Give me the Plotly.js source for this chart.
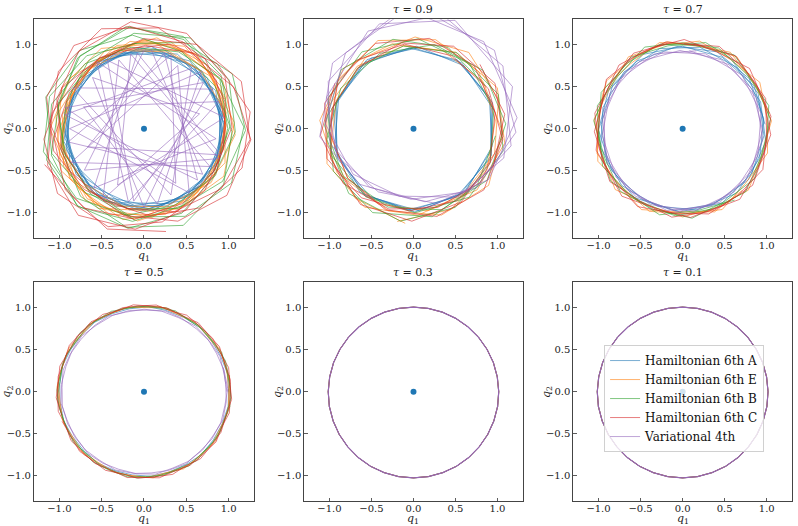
<!DOCTYPE html>
<html><head><meta charset="utf-8">
<script src="https://cdn.plot.ly/plotly-3.0.1.min.js"></script>
<style>html,body{margin:0;padding:0;background:#fff}#chart{width:798px;height:526px}</style>
</head><body><div id="chart"></div>
<script>
// ---- labels ----
const methods = ['Hamiltonian 6th A','Hamiltonian 6th E','Hamiltonian 6th B','Hamiltonian 6th C','Variational 4th'];
const lineColors = ['rgba(31,119,180,0.6)','rgba(255,127,14,0.6)','rgba(44,160,44,0.6)','rgba(214,39,40,0.6)','rgba(148,103,189,0.6)'];
const taus = ['1.1','0.9','0.7','0.5','0.3','0.1'];
const tickVals = [-1,-0.5,0,0.5,1];
const tickText = ['\u22121.0','\u22120.5','0.0','0.5','1.0'];

// ---- orbit vertices, read as (angle in degrees, radius) ----
// tau = 1.1
const t11A_th = [8,45,83,120,156,194,231,268,304,341,18,56,93,129,166,204,241,277,314,351,28,66,102,139,177,214,250,287,325,2,39,76,112,150,187,223,260,298,335,12,49,85,123,160,196,233,271,308,344,21,58,95,132,169,206,243,280,317,354,31,68,105,142,179,216,253,290,327,4,41,78,115,152,189,226,263,300,337,14,51];
const t11A_r  = [0.95,0.97,0.96,0.94,0.93,0.95,0.97,0.98,0.96,0.94,0.95,0.97,0.96,0.93,0.94,0.96,0.98,0.97,0.95,0.94,0.96,0.97,0.95,0.93,0.95,0.97,0.98,0.96,0.94,0.95,0.96,0.97,0.95,0.94,0.94,0.96,0.98,0.97,0.95,0.94,0.96,0.98,0.95,0.93,0.95,0.97,0.97,0.96,0.94,0.95,0.92,0.95,0.97,0.96,0.93,0.92,0.95,0.97,0.96,0.94,0.92,0.94,0.97,0.96,0.93,0.92,0.95,0.97,0.95,0.93,0.92,0.95,0.97,0.96,0.93,0.92,0.95,0.97,0.96,0.94];
const t11E_th = [20,55,91,126,160,196,231,266,300,336,11,46,82,117,151,187,222,257,292,327,3,38,73,108,143,179,214,248,284,319,354,29,64,99,135,170,205,240,275,310,346,21,56,90,126,161,196,231,266,302,337,12,47,82,118,153,188,223,258,293,329,4,39,74,110,145,180,215,250,285,321,356,31,66,102,137,172,207,242,277];
const t11E_r  = [1.02,1.08,1.05,0.98,0.96,1.01,1.07,1.10,1.04,0.97,0.99,1.06,1.09,1.03,0.96,0.98,1.05,1.11,1.06,0.99,0.97,1.03,1.08,1.04,0.97,0.99,1.06,1.10,1.05,0.98,0.98,1.04,1.09,1.05,0.97,0.98,1.05,1.09,1.06,0.99,0.97,1.03,1.08,1.06,0.98,0.97,1.04,1.10,1.07,1.00,1.04,0.98,0.96,1.02,1.08,1.09,1.03,0.96,0.97,1.04,1.10,1.07,1.00,0.95,0.99,1.06,1.11,1.05,0.98,0.96,1.02,1.08,1.09,1.02,0.96,0.98,1.05,1.10,1.07,0.99];
const t11B_th = [95,128,161,193,226,259,292,325,358,30,63,96,129,161,194,227,260,292,325,358,31,64,97,129,162,195,228,261,293,326,359,32,65,97,130,163,196,229,261,294,327,0,33,66,98,131,164,197,229,262,295,328,1,34,66,99,132,165,198,230,263,296,329,2,35,67,100,133,166,199,231,264];
const t11B_r  = [1.02,1.10,1.18,1.22,1.15,1.05,0.98,1.00,1.08,1.16,1.21,1.14,1.04,0.97,1.01,1.10,1.19,1.24,1.15,1.04,0.98,1.02,1.12,1.20,1.22,1.13,1.03,0.97,1.03,1.12,1.20,1.23,1.13,1.02,0.98,1.05,1.14,1.21,1.20,1.10,1.01,0.99,1.07,1.16,1.22,1.15,1.06,0.99,0.98,1.06,1.15,1.22,1.18,1.08,1.00,0.98,1.04,1.13,1.21,1.21,1.11,1.02,0.97,1.02,1.11,1.19,1.23,1.15,1.05,0.98,1.00,1.09];
const t11C_th = [200,233,264,297,329,1,33,66,97,130,161,193,226,257,290,321,354,25,58,89,122,153,186,217,250,281,314,345,18,49,82,113,146,177,210,241,274,305,338,9,42,73,106,137,170,201,233,265,297,329,2,34,66,98,130,162,194,226,258,290,322,354,26,58,90,122,154,186,218,250,282];
const t11C_r  = [1.25,1.18,1.08,1.00,0.97,1.04,1.14,1.24,1.28,1.20,1.09,1.00,0.98,1.06,1.17,1.26,1.27,1.17,1.06,0.99,0.99,1.08,1.19,1.28,1.24,1.13,1.03,0.97,1.01,1.10,1.21,1.29,1.22,1.11,1.01,0.98,1.04,1.15,1.25,1.27,1.16,1.05,0.98,1.00,1.10,1.22,1.29,1.20,1.09,1.00,0.97,1.03,1.13,1.23,1.29,1.21,1.10,1.01,0.97,1.05,1.16,1.26,1.28,1.18,1.07,0.99,0.98,1.07,1.18,1.27,1.25];
const t11V_th = [90,215,338,100,245,8,118,262,30,150,292,52,170,316,75,198,341,95,230,352,125,258,20,160,280,45,180,305,62,205,330,110,240,15,135,270,38,165,300,70,190,322,85];
const t11V_r  = [0.93,0.86,0.95,0.90,0.74,0.96,0.92,0.87,0.94,0.97,0.85,0.91,0.95,0.88,0.93,0.70,0.96,0.90,0.92,0.86,0.97,0.89,0.94,0.76,0.91,0.96,0.88,0.93,0.85,0.95,0.90,0.87,0.97,0.68,0.86,0.94,0.89,0.96,0.75,0.93,0.91,0.88,0.95];
// tau = 0.9
const t09A_th = [85,121,158,194,230,266,302,339,15,51,88,124,160,196,233,269,305,341,18,54,90,126,163,199,235,271,308,344,20,57,93,129,165,202,238,274,310,347,23,59];
const t09A_r  = [0.97,0.98,0.96,0.97,0.99,0.97,0.96,0.98,0.97,0.96,0.98,0.99,0.97,0.96,0.98,0.97,0.96,0.98,0.99,0.97,0.96,0.98,0.97,0.96,0.98,0.99,0.97,0.96,0.98,0.97,0.96,0.98,0.99,0.97,0.96,0.98,0.97,0.96,0.98,0.97];
const t09E_th = [260,295,331,6,41,76,112,147,182,217,253,288,323,358,34,69,104,139,175,210,245,280,316,351,26,61,97,132,167,202,238,273,308,343,19,54,89,124,160,195,230,265];
const t09E_r  = [1.12,1.06,1.00,0.98,1.03,1.09,1.13,1.07,1.01,0.98,1.02,1.08,1.12,1.06,1.00,0.99,1.04,1.10,1.12,1.05,0.99,0.99,1.05,1.10,1.11,1.04,0.99,1.00,1.06,1.11,1.10,1.03,0.98,1.01,1.07,1.12,1.09,1.02,0.98,1.02,1.08,1.13];
const t09B_th = [30,67,103,141,178,214,252,289,325,3,40,76,114,151,187,225,262,298,336,13,49,87,124,160,198,235,271,309,346,22,60,97,133,171,208,244,282,319,355];
const t09B_r  = [1.00,1.05,1.09,1.11,1.06,1.01,0.98,1.02,1.07,1.10,1.08,1.03,0.98,0.99,1.04,1.09,1.11,1.06,1.00,0.98,1.02,1.07,1.10,1.08,1.03,0.99,1.00,1.05,1.10,1.09,1.04,0.99,0.98,1.03,1.08,1.11,1.07,1.01,0.98];
const t09C_th = [150,184,218,253,287,321,355,29,64,98,132,166,200,235,269,303,337,11,46,80,114,148,182,217,251,285,319,353,28,62,96,130,164,199,233,267,301,335,9,44];
const t09C_r  = [1.08,1.11,1.06,1.00,0.98,1.02,1.07,1.11,1.09,1.03,0.98,1.00,1.05,1.10,1.10,1.04,0.99,0.99,1.04,1.09,1.11,1.06,1.00,0.98,1.02,1.08,1.11,1.07,1.01,0.98,1.01,1.06,1.10,1.09,1.03,0.98,1.00,1.05,1.10,1.10];
const t09V_th = [100,141,185,226,268,311,350,35,76,115,160,200,241,287,326,6,51,93,132,177,217,258,303,342,23,69,108,151,190,233,279,317,358,44,84];
const t09V_r  = [1.36,1.24,1.12,0.92,0.84,0.99,1.18,1.30,1.40,1.28,1.10,0.97,0.86,0.93,1.08,1.24,1.33,1.42,1.21,1.05,0.90,0.82,0.97,1.13,1.28,1.38,1.31,1.16,1.01,0.87,0.88,1.03,1.22,1.34,1.41];
// tau = 0.7
const t07A_th = [3,31,61,90,118,148,177,205,235,264,292,322,351,19,49,78,106,136,165,193,223,252,280,310,339,7,37,66,94,124,153,181,211,240,268,298,327,355,25,54];
const t07A_r  = [0.98,0.99,0.97,0.98,1.00,0.98,0.97,0.99,1.00,0.98,0.97,0.99,1.00,0.98,0.97,0.99,0.99,0.97,0.98,1.00,0.99,0.97,0.98,1.00,0.98,0.97,0.99,1.00,0.98,0.97,0.99,1.00,0.98,0.97,0.99,1.00,0.98,0.97,0.99,1.00];
const t07E_th = [10,33,58,81,105,129,153,176,201,224,248,272,296,319,344,7,31,55,79,102,127,150,174,198,222,245,270,293,317,341,5,28,53,76,100,124,148,171,196,219,243,267,291,314];
const t07E_r  = [1.05,1.00,1.07,1.01,1.06,0.99,1.05,1.02,1.08,1.00,1.06,1.01,1.07,0.99,1.05,1.01,1.07,1.00,1.06,1.02,1.07,0.99,1.06,1.01,1.08,1.00,1.05,1.02,1.07,0.99,1.06,1.01,1.07,1.00,1.05,1.02,1.07,1.00,1.06,1.01,1.08,0.99,1.06,1.02];
const t07B_th = [50,75,100,126,150,175,201,225,250,276,300,325,351,15,40,66,90,115,141,165,190,216,240,265,291,315,340,6,30,55,81,105,130,156,180,205,231,255,280,306];
const t07B_r  = [1.02,1.06,1.00,1.05,1.01,1.06,0.99,1.05,1.02,1.07,1.00,1.04,1.01,1.06,1.00,1.05,1.02,1.07,0.99,1.05,1.01,1.06,1.00,1.04,1.02,1.06,0.99,1.05,1.01,1.07,1.00,1.04,1.02,1.06,1.00,1.05,1.01,1.06,0.99,1.05];
const t07C_th = [100,123,146,170,193,216,239,263,286,309,332,356,19,42,65,89,112,135,158,182,205,228,251,275,298,321,344,8,31,54,77,101,124,147,170,194,217,240,263,287,310,333,356,20,43,66,89];
const t07C_r  = [1.03,1.07,1.01,1.06,1.02,1.07,1.00,1.06,1.03,1.08,1.01,1.05,1.02,1.07,1.00,1.06,1.03,1.07,1.01,1.05,1.02,1.08,1.00,1.06,1.03,1.07,1.01,1.06,1.02,1.07,1.01,1.05,1.03,1.08,1.00,1.06,1.02,1.07,1.01,1.06,1.03,1.07,1.00,1.05,1.02,1.07,1.01];
const t07V_th = [80,111,142,173,204,235,266,297,328,359,30,61,92,123,154,185,216,247,278,309,340,11,42,73,104,135,166,197,228,259,290,321,352,23,54,85];
const t07V_r  = [0.94,0.95,0.95,0.96,0.98,0.98,0.99,0.98,0.96,0.95,0.95,0.94,0.93,0.95,0.96,0.96,0.98,0.98,0.99,0.97,0.95,0.95,0.95,0.93,0.94,0.96,0.96,0.97,0.98,0.99,0.98,0.97,0.96,0.95,0.94,0.93];
// tau = 0.5
const t05A_th = [0,12,25,37,50,62,75,87,100,112,125,137,150,162,175,187,200,212,225,237,250,262,275,287,300,312,325,337,350,362];
const t05A_r  = [1.00,1.01,1.00,1.00,1.01,1.00,1.00,1.01,1.00,1.00,1.01,1.00,1.00,1.01,1.00,1.00,1.01,1.00,1.00,1.01,1.00,1.00,1.01,1.00,1.00,1.01,1.00,1.00,1.01,1.00];
const t05E_th = [5,17,30,42,54,67,79,91,103,116,128,140,153,165,177,190,202,214,227,239,251,263,276,288,300,313,325,337,350,362,374,386,399,411,423,436,448,460,473,485,497,509,522,534,546,559,571,583,596,608,620,632,645,657,669,682,694,706,719,731];
const t05E_r  = [1.02,1.01,1.03,1.01,1.02,1.00,1.03,1.01,1.02,1.01,1.03,1.00,1.02,1.01,1.03,1.01,1.02,1.00,1.03,1.01,1.02,1.01,1.03,1.00,1.02,1.01,1.03,1.01,1.02,1.00,1.01,1.02,1.00,1.02,1.01,1.03,1.00,1.02,1.01,1.02,1.00,1.03,1.01,1.02,1.00,1.02,1.01,1.03,1.00,1.02,1.01,1.02,1.00,1.03,1.01,1.02,1.00,1.02,1.01,1.03];
const t05B_th = [100,112,124,137,149,161,173,185,198,210,222,234,246,259,271,283,295,307,320,332,344,356,368,381,393,405,417,429,442,454,466,478,490,503,515,527,539,551,564,576,588,600,612,625,637,649,661,673,686,698,710,722,734,747,759,771,783,795,808,820];
const t05B_r  = [1.01,1.03,1.02,1.03,1.01,1.02,1.00,1.03,1.01,1.02,1.01,1.03,1.02,1.03,1.01,1.02,1.00,1.03,1.01,1.02,1.01,1.03,1.02,1.03,1.01,1.02,1.00,1.03,1.01,1.02,1.02,1.01,1.03,1.00,1.02,1.01,1.03,1.02,1.01,1.03,1.00,1.02,1.01,1.03,1.02,1.01,1.03,1.00,1.02,1.01,1.03,1.02,1.01,1.03,1.00,1.02,1.01,1.03,1.02,1.01];
const t05C_th = [200,211,223,233,244,256,266,277,289,299,310,322,332,343,355,365,376,388,398,409,421,431,442,454,464,475,487,497,508,520,530,541,553,563,574,586,596,607,619,629,640,652,662,673,685,695,706,718,728,739,751,761,772,784,794,805,817,827,838,850,860,871,883,893,904,916];
const t05C_r  = [1.03,1.01,1.04,1.02,1.04,1.01,1.03,1.02,1.04,1.01,1.04,1.02,1.03,1.01,1.04,1.02,1.04,1.01,1.03,1.02,1.04,1.01,1.04,1.02,1.03,1.01,1.04,1.02,1.04,1.01,1.03,1.02,1.04,1.01,1.04,1.02,1.03,1.01,1.04,1.02,1.04,1.01,1.03,1.02,1.04,1.01,1.04,1.02,1.03,1.01,1.04,1.02,1.04,1.01,1.03,1.02,1.04,1.01,1.04,1.02,1.03,1.01,1.04,1.02,1.04,1.01];
const t05V_th = [0,12,25,37,50,63,75,88,100,112,125,138,150,162,175,188,200,213,225,237,250,263,275,287,300,313,325,338,350,362,375,388,400,412,425,438,450,463,475,487,500,513,525,537,550,563,575,588,600,612,625,638,650,662,675,688,700,713,725,737];
const t05V_r  = [0.98,0.97,0.99,0.98,0.97,0.98,0.99,0.97,0.98,0.98,0.97,0.99,0.98,0.97,0.98,0.99,0.97,0.98,0.98,0.97,0.99,0.98,0.97,0.98,0.99,0.97,0.98,0.98,0.97,0.99,0.98,0.97,0.98,0.99,0.97,0.98,0.98,0.97,0.99,0.98,0.97,0.98,0.99,0.97,0.98,0.98,0.97,0.99,0.98,0.97,0.98,0.99,0.97,0.98,0.98,0.97,0.99,0.98,0.97,0.98];
// tau = 0.3 and 0.1: all five methods trace the same closed orbit
const circ_th = [0,10,20,30,40,50,60,70,80,90,100,110,120,130,140,150,160,170,180,190,200,210,220,230,240,250,260,270,280,290,300,310,320,330,340,350,360];
const circ_r  = [1.015,1.013,1.012,1.010,1.009,1.007,1.006,1.006,1.005,1.005,1.005,1.006,1.006,1.007,1.009,1.010,1.012,1.013,1.015,1.017,1.018,1.020,1.021,1.023,1.024,1.024,1.025,1.025,1.025,1.024,1.024,1.023,1.021,1.020,1.018,1.017,1.015];

const panels = [
  [[t11A_th,t11A_r],[t11E_th,t11E_r],[t11B_th,t11B_r],[t11C_th,t11C_r],[t11V_th,t11V_r]],
  [[t09A_th,t09A_r],[t09E_th,t09E_r],[t09B_th,t09B_r],[t09C_th,t09C_r],[t09V_th,t09V_r]],
  [[t07A_th,t07A_r],[t07E_th,t07E_r],[t07B_th,t07B_r],[t07C_th,t07C_r],[t07V_th,t07V_r]],
  [[t05A_th,t05A_r],[t05E_th,t05E_r],[t05B_th,t05B_r],[t05C_th,t05C_r],[t05V_th,t05V_r]],
  [[circ_th,circ_r],[circ_th,circ_r],[circ_th,circ_r],[circ_th,circ_r],[circ_th,circ_r]],
  [[circ_th,circ_r],[circ_th,circ_r],[circ_th,circ_r],[circ_th,circ_r],[circ_th,circ_r]]
];

const FONT = 'DejaVu Serif';
const xDomains = [[0.0426,0.3183],[0.3813,0.6550],[0.7184,0.9925]];
const yDomains = [[0.5475,0.9633],[0.0475,0.4633]];

const traces = [];
const layout = {
  width: 798, height: 526,
  margin: {l:0, r:0, t:0, b:0},
  paper_bgcolor: '#fff', plot_bgcolor: '#fff',
  font: {family: FONT, color: '#222'},
  showlegend: true,
  legend: {x: 0.757, y: 0.344, xanchor: 'left', yanchor: 'top', tracegroupgap: 0,
           bgcolor: 'rgba(255,255,255,0.8)', bordercolor: '#d0d0d0', borderwidth: 1,
           font: {family: FONT, size: 12, color: '#111'}},
  annotations: []
};

panels.forEach((series, p) => {
  const sfx = p === 0 ? '' : String(p + 1);
  const xa = 'x' + sfx, ya = 'y' + sfx;
  series.forEach((s, k) => {
    const th = s[0], r = s[1];
    let color = lineColors[k], width = 1;
    if (p >= 4 && k === 4) { color = 'rgba(148,103,189,0.92)'; width = 1.2; }
    traces.push({
      type: 'scatter', mode: 'lines', xaxis: xa, yaxis: ya,
      x: th.map((t, i) => r[i] * Math.cos(t * Math.PI / 180)),
      y: th.map((t, i) => r[i] * Math.sin(t * Math.PI / 180)),
      name: methods[k],
      showlegend: p === 0,
      line: {color: color, width: width},
      hoverinfo: 'skip'
    });
  });
  traces.push({type: 'scatter', mode: 'markers', xaxis: xa, yaxis: ya, x: [0], y: [0],
               marker: {color: '#1f77b4', size: 6}, showlegend: false, hoverinfo: 'skip'});
  const col = p % 3, row = Math.floor(p / 3);
  const axCommon = {
    range: [-1.3, 1.3], tickvals: tickVals, ticktext: tickText,
    ticks: 'inside', ticklen: 3.5, tickwidth: 0.8, tickcolor: '#333',
    showline: true, mirror: true, linecolor: '#444', linewidth: 1,
    showgrid: false, zeroline: false, fixedrange: true,
    tickfont: {family: FONT, size: 10, color: '#222'}
  };
  layout['xaxis' + sfx] = Object.assign({}, axCommon, {domain: xDomains[col], anchor: ya, ticklabelstandoff: -2});
  layout['yaxis' + sfx] = Object.assign({}, axCommon, {domain: yDomains[row], anchor: xa});
  const dom = {xref: xa + ' domain', yref: ya + ' domain', showarrow: false};
  layout.annotations.push(Object.assign({}, dom, {
    text: '<i>\u03c4</i> = ' + taus[p], x: 0.5, y: 1, xanchor: 'center', yanchor: 'bottom', yshift: 1,
    font: {family: FONT, size: 11, color: '#222'}
  }));
  // axis labels q1 (below) and q2 (left, rotated)
  layout.annotations.push(Object.assign({}, dom, {
    text: '<i>q</i><sub>1</sub>', x: 0.5, y: 0, xanchor: 'center', yanchor: 'top', yshift: -9,
    font: {family: FONT, size: 11, color: '#222'}
  }));
  layout.annotations.push(Object.assign({}, dom, {
    text: '<i>q</i><sub>2</sub>', x: 0, y: 0.5, xanchor: 'right', yanchor: 'middle', xshift: -18, textangle: -90,
    font: {family: FONT, size: 11, color: '#222'}
  }));
});

Plotly.newPlot('chart', traces, layout, {staticPlot: true});
</script></body></html>
